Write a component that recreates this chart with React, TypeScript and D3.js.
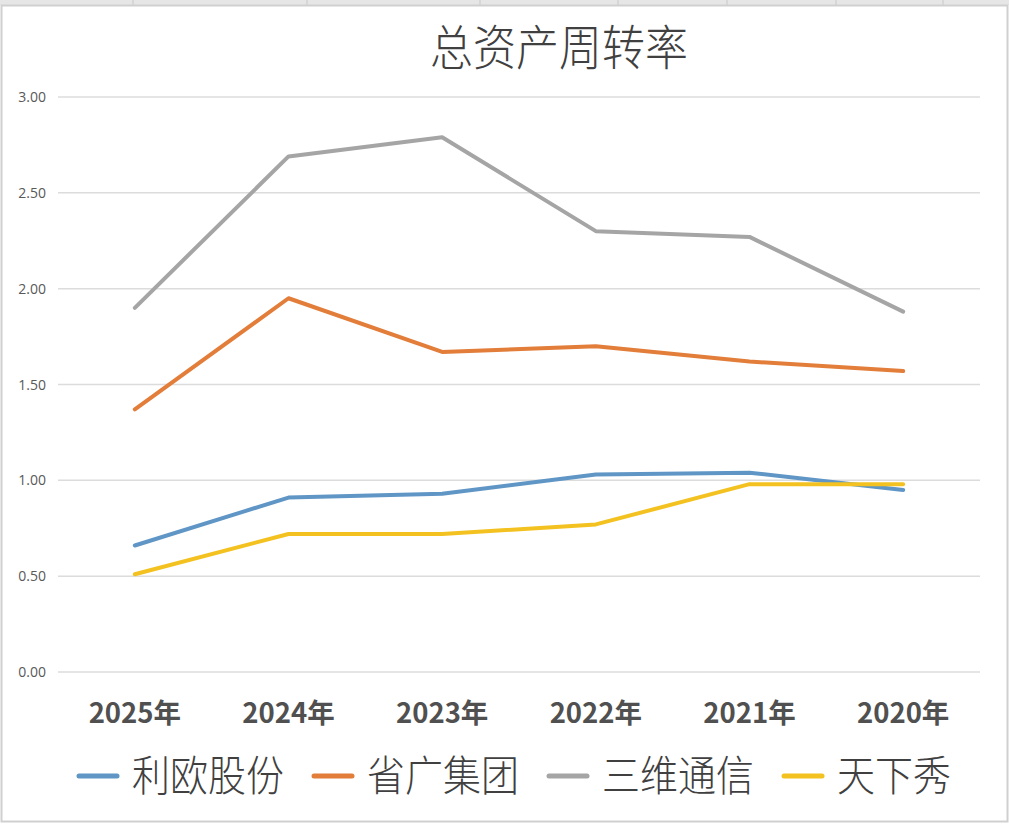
import React from "react";
import * as d3 from "d3";

const categories = ["2025年", "2024年", "2023年", "2022年", "2021年", "2020年"];
const seriesNames = ["利欧股份", "省广集团", "三维通信", "天下秀"];
const liou = [0.66, 0.91, 0.93, 1.03, 1.04, 0.95];
const shenggguang = [1.37, 1.95, 1.67, 1.70, 1.62, 1.57];
const sanwei = [1.90, 2.69, 2.79, 2.30, 2.27, 1.88];
const tianxiaxiu = [0.51, 0.72, 0.72, 0.77, 0.98, 0.98];
const yTicks = [0, 0.5, 1.0, 1.5, 2.0, 2.5, 3.0];
const colors = ["#5f96c6", "#e27d3a", "#a5a5a5", "#f3c221"];
const seriesValues = [liou, shenggguang, sanwei, tianxiaxiu];
const topSeparators = [133, 307, 480, 618, 727, 836, 943];

const W = 1009;
const H = 824;

export default function App() {
  const x = d3.scalePoint<string>().domain(categories).range([58, 980]).padding(0.5);
  const y = d3.scaleLinear().domain([0, 3]).range([672, 97]);
  const line = d3
    .line<number>()
    .x((_, i) => x(categories[i]) as number)
    .y((d) => y(d));

  const legendX = [77, 312, 547, 782];
  const font = "'Noto Sans CJK SC', 'Noto Sans', sans-serif";

  return (
    <div style={{ position: "absolute", left: 0, top: 0 }}>
      <svg width={W} height={H} viewBox={`0 0 ${W} ${H}`} style={{ display: "block", background: "#fff" }}>
        {/* sheet frame */}
        <rect x={0} y={0} width={W} height={5} fill="#e6e6e6" />
        {topSeparators.map((sx) => (
          <line key={sx} x1={sx} x2={sx} y1={0} y2={5} stroke="#c8c8c8" strokeWidth={1} />
        ))}
        <rect x={1.5} y={5.5} width={W - 3} height={H - 8} fill="none" stroke="#d0d0d0" strokeWidth={2} />

        {/* title */}
        <g transform="translate(559,65) scale(1,1.12)">
          <text
            x={0}
            y={0}
            textAnchor="middle"
            fontFamily={font}
            fontSize={43}
            fontWeight={300}
            fill="#404040"
          >
            总资产周转率
          </text>
        </g>

        {/* gridlines and y labels */}
        {yTicks.map((t) => (
          <g key={t}>
            <line x1={58} x2={980} y1={y(t)} y2={y(t)} stroke="#dcdcdc" strokeWidth={1.5} />
            <text
              x={46}
              y={y(t) + 5}
              textAnchor="end"
              fontFamily="'Open Sans', 'Noto Sans', sans-serif"
              fontSize={14}
              fill="#595959"
            >
              {t.toFixed(2)}
            </text>
          </g>
        ))}

        {/* x labels */}
        {categories.map((c) => (
          <text
            key={c}
            x={x(c) as number}
            y={723}
            textAnchor="middle"
            fontFamily={font}
            fontSize={27.5}
            fontWeight={700}
            fill="#505050"
          >
            {c}
          </text>
        ))}

        {/* series */}
        {seriesValues.map((vals, i) => (
          <path
            key={seriesNames[i]}
            d={line(vals) || ""}
            fill="none"
            stroke={colors[i]}
            strokeWidth={4}
            strokeLinejoin="round"
            strokeLinecap="round"
          />
        ))}

        {/* legend */}
        {seriesNames.map((n, i) => (
          <g key={n} transform={`translate(${legendX[i]},776)`}>
            <line x1={2} x2={40} y1={0} y2={0} stroke={colors[i]} strokeWidth={5} strokeLinecap="round" />
            <g transform="translate(55,15) scale(1,1.1)">
              <text
                x={0}
                y={0}
                fontFamily={font}
                fontSize={38}
                fontWeight={300}
                fill="#404040"
              >
                {n}
              </text>
            </g>
          </g>
        ))}
      </svg>
    </div>
  );
}
